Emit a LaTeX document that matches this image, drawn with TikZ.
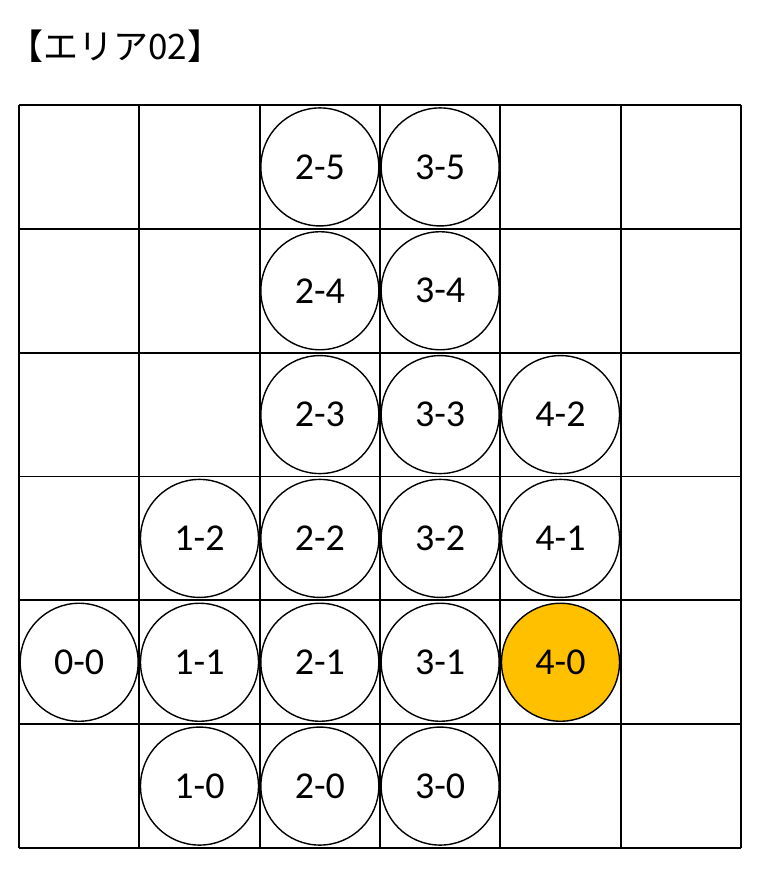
\documentclass[tikz,border=0pt]{standalone}
\usepackage{fontspec}
\setmainfont{Carlito}
\newfontfamily\jpfont{Noto Sans CJK JP}
\definecolor{gold}{HTML}{FFC000}
\begin{document}
\begin{tikzpicture}[x=1pt,y=-1pt,
  gridline/.style={line width=1.8pt,black},
  cell/.style={circle,draw=black,line width=1.4pt,fill=white,minimum size=118pt,inner sep=0pt,font=\fontsize{38}{38}\selectfont},
  hot/.style={fill=gold}]
\useasboundingbox (0,0) rectangle (759,870);
\node[anchor=base west,inner sep=0pt,font=\jpfont\fontsize{35}{35}\selectfont] (title) at (8,59) {【エリア02】};
\foreach \c/\r/\t/\s in {2/0/2-5/,3/0/3-5/,2/1/2-4/,3/1/3-4/,2/2/2-3/,3/2/3-3/,4/2/4-2/,1/3/1-2/,2/3/2-2/,3/3/3-2/,4/3/4-1/,0/4/0-0/,1/4/1-1/,2/4/2-1/,3/4/3-1/,4/4/4-0/hot,1/5/1-0/,2/5/2-0/,3/5/3-0/} {
  \node[cell,\s] (n\t) at ({19+(\c+0.5)*120.333},{105+(\r+0.5)*123.833}) {\t};
}
% grid on top
\foreach \i in {0,...,6} {
  \draw[gridline] ({19+\i*120.333},105) -- ({19+\i*120.333},848);
  \draw[gridline] (19,{105+\i*123.833}) -- (741,{105+\i*123.833});
}
\end{tikzpicture}
\end{document}
